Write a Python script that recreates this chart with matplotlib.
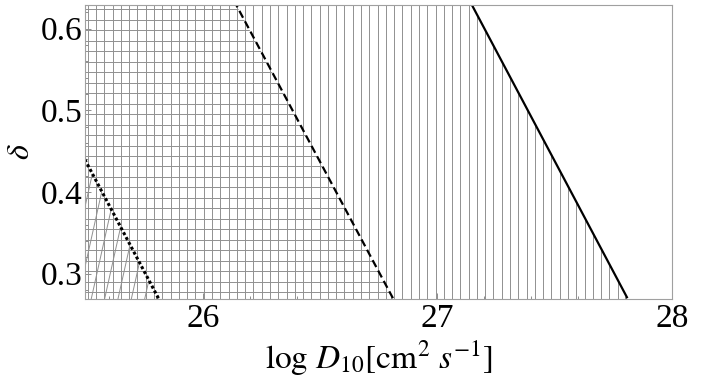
import matplotlib
matplotlib.use("Agg")
import matplotlib.pyplot as plt
import numpy as np
from matplotlib.patches import Polygon
from matplotlib.ticker import MultipleLocator, FormatStrFormatter

plt.rcParams["font.family"] = "Liberation Serif"
plt.rcParams["mathtext.fontset"] = "stix"

# boundary lines: log D10 at two values of delta
delta_pts = [0.27, 0.63]
logD_solid = [27.81, 27.145]
logD_dashed = [26.81, 26.14]
logD_dotted = [25.81, 25.145]

xticks = [26, 27, 28]
yticks = [0.3, 0.4, 0.5, 0.6]

XMIN, XMAX = 25.497, 28.0
YMIN, YMAX = 0.269, 0.629
GREY = "#909090"

fig = plt.figure(figsize=(7.12, 3.81), dpi=100)
ax = fig.add_axes([0.1194, 0.2152, 0.8244, 0.7717])
ax.set_xlim(XMIN, XMAX)
ax.set_ylim(YMIN, YMAX)


def region_left_of(logD):
    # polygon left of a straight boundary, extended past the axes
    k, b = np.polyfit(delta_pts, logD, 1)
    d0, d1 = 0.2, 0.7
    return Polygon([(24.0, d0), (k * d0 + b, d0), (k * d1 + b, d1), (24.0, d1)],
                   closed=True, transform=ax.transData)


clip_solid = region_left_of(logD_solid)
clip_dashed = region_left_of(logD_dashed)
clip_dotted = region_left_of(logD_dotted)

# vertical hatch left of the solid line
xs = np.arange(XMIN + 0.012, XMAX, 0.0353)
vl = ax.vlines(xs, 0.2, 0.7, color=GREY, lw=0.7)
vl.set_clip_path(clip_solid)

# horizontal hatch left of the dashed line
ys = np.arange(0.624, 0.2, -0.01285)
hl = ax.hlines(ys, 24.0, 29.0, color=GREY, lw=0.7)
hl.set_clip_path(clip_dashed)

# diagonal hatch left of the dotted line
slope = 1.29
for x0 in np.arange(24.9, 25.9, 0.057):
    ln, = ax.plot([x0, x0 + 0.5 / slope], [0.2, 0.7], color=GREY, lw=0.7)
    ln.set_clip_path(clip_dotted)

# boundary lines
ax.plot(logD_solid, delta_pts, color="black", lw=1.6, solid_capstyle="butt")
ax.plot(logD_dashed, delta_pts, color="black", lw=1.6, dashes=(3.5, 1.8))
ax.plot(logD_dotted, delta_pts, color="black", lw=2.2, dashes=(1.0, 0.8))

for s in ax.spines.values():
    s.set_color("#a0a0a0")
    s.set_linewidth(0.8)

ax.set_xticks(xticks)
ax.set_yticks(yticks)
ax.yaxis.set_major_formatter(FormatStrFormatter("%.1f"))
ax.xaxis.set_minor_locator(MultipleLocator(0.2))
ax.yaxis.set_minor_locator(MultipleLocator(0.02))
ax.tick_params(which="both", direction="in", color="#8c8c8c", width=0.7,
               top=False, right=False, labelsize=24)
ax.tick_params(which="major", length=4.5)
ax.tick_params(which="minor", length=2.5)
ax.tick_params(axis="x", pad=3)
ax.tick_params(axis="y", pad=2)

ax.set_xlabel(r"$\log\,D_{10}[\mathrm{cm}^2\ s^{-1}]$", fontsize=24, labelpad=4)
ax.set_ylabel(r"$\delta$", fontsize=23, labelpad=3)

fig.savefig("out.png", dpi=100, facecolor="white")
